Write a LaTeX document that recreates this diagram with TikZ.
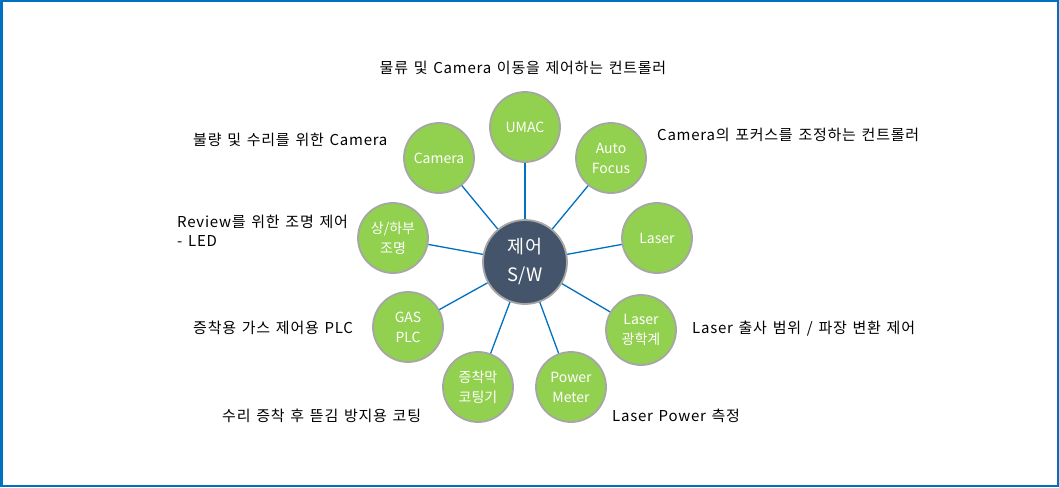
\documentclass[tikz,border=0pt]{standalone}
\usepackage{fontspec}
\setmainfont{Noto Sans CJK KR}
\newfontfamily\lblfont[LetterSpace=5,WordSpace=1.4]{Noto Sans CJK KR}
\definecolor{frameblue}{HTML}{0070C0}
\definecolor{linkblue}{HTML}{0070C0}
\definecolor{leaf}{HTML}{92D050}
\definecolor{ring}{HTML}{A6A6A6}
\definecolor{hub}{HTML}{44546A}
\begin{document}
\begin{tikzpicture}[x=1pt,y=-1pt,
  sat/.style={circle,fill=leaf,draw=ring,line width=1.8pt,minimum size=70pt,inner sep=0pt,
    text=white,font=\fontsize{14}{20}\selectfont,align=center},
  hubnode/.style={circle,fill=hub,draw=ring,line width=1.8pt,minimum size=84pt,inner sep=0pt,
    text=white,font=\fontsize{18.5}{28}\selectfont,align=center},
  link/.style={draw=linkblue,line width=1.3pt},
  lbl/.style={font=\lblfont\fontsize{15}{19}\selectfont,inner sep=0pt,align=left}]
\draw[frameblue,line width=2.5pt,fill=white] (1.25,1.25) rectangle (1057.75,485.75);
\useasboundingbox (0,0) rectangle (1059,487);

\node[hubnode] (hub) at (525,262) {제어\\S/W};
\node[sat] (umac) at (525,127) {UMAC};
\node[sat] (cam) at (439,158) {Camera};
\node[sat] (af) at (611,158) {Auto\\Focus};
\node[sat] (led) at (393,238) {상/하부\\조명};
\node[sat] (laser) at (657,238) {Laser};
\node[sat] (gas) at (408,327) {GAS\\PLC};
\node[sat] (opt) at (641,330) {Laser\\광학계};
\node[sat] (coat) at (478,387) {증착막\\코팅기};
\node[sat] (pm) at (571,387) {Power\\Meter};

\foreach \n in {umac,cam,af,led,laser,gas,opt,coat,pm}{
  \path[link] (hub) -- (\n);
}

\node[lbl,anchor=center] (t1) at (523,68) {물류 및 Camera 이동을 제어하는 컨트롤러};
\node[lbl,anchor=west] (t2) at (193,140) {불량 및 수리를 위한 Camera};
\node[lbl,anchor=west] (t3) at (657,135) {Camera의 포커스를 조정하는 컨트롤러};
\node[lbl,anchor=west] (t4) at (177,231) {Review를 위한 조명 제어\\- LED};
\node[lbl,anchor=west] (t5) at (193,328) {증착용 가스 제어용 PLC};
\node[lbl,anchor=west] (t6) at (692,329) {Laser 출사 범위 / 파장 변환 제어};
\node[lbl,anchor=west] (t7) at (222,416) {수리 증착 후 뜯김 방지용 코팅};
\node[lbl,anchor=west] (t8) at (612,416) {Laser Power 측정};
\end{tikzpicture}
\end{document}
